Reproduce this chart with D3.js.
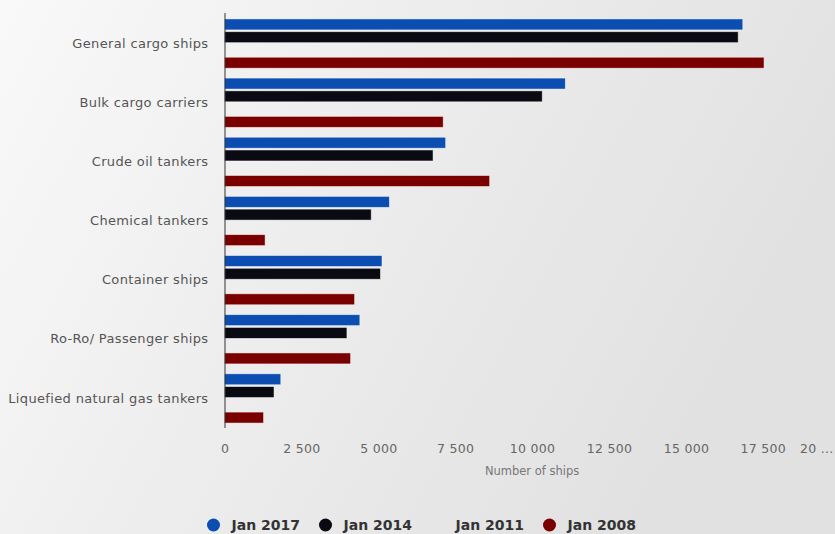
<!DOCTYPE html>
<html lang="en">
<head>
    <meta charset="UTF-8">
    <title>Number of ships by type</title>
    <script src="https://d3js.org/d3.v7.min.js"></script>
    <style>
        body {
            margin: 0;
            padding: 0;
            background-color: #ececec;
        }

        #chart svg {
            display: block;
        }
    </style>
</head>
<body>

    <div id="chart"></div>

    <script>
        // Ship types (top to bottom)
        var categories = [
            'General cargo ships',
            'Bulk cargo carriers',
            'Crude oil tankers',
            'Chemical tankers',
            'Container ships',
            'Ro-Ro/ Passenger ships',
            'Liquefied natural gas tankers'
        ];

        // Number of ships per series
        var seriesNames = ['Jan 2017', 'Jan 2014', 'Jan 2011', 'Jan 2008'];
        var jan2017 = [16850, 11080, 7190, 5360, 5120, 4400, 1830];
        var jan2014 = [16700, 10330, 6780, 4770, 5070, 3980, 1610];
        var jan2011 = [null, null, null, null, null, null, null];
        var jan2008 = [17540, 7110, 8620, 1320, 4230, 4100, 1270];

        var tickValues = [0, 2500, 5000, 7500, 10000, 12500, 15000, 17500, 20000];

        var seriesValues = [jan2017, jan2014, jan2011, jan2008];
        var colors = ['#0b4db1', '#0a0a12', '#ffffff', '#7a0000'];

        var width = 835;
        var height = 534;
        var margin = { top: 14, right: 0, bottom: 106, left: 224.5 };

        var svg = d3.select('#chart')
            .append('svg')
            .attr('width', width)
            .attr('height', height);

        // soft grey background
        var defs = svg.append('defs');
        var grad = defs.append('linearGradient')
            .attr('id', 'bg')
            .attr('x1', 0).attr('y1', 0)
            .attr('x2', 1).attr('y2', 0.35);
        grad.append('stop').attr('offset', '0%').attr('stop-color', '#f9f9f9');
        grad.append('stop').attr('offset', '55%').attr('stop-color', '#ebebeb');
        grad.append('stop').attr('offset', '100%').attr('stop-color', '#e1e1e1');

        svg.append('rect')
            .attr('width', width)
            .attr('height', height)
            .attr('fill', 'url(#bg)');

        var x = d3.scaleLinear()
            .domain([0, 20000])
            .range([margin.left, margin.left + 8 * 76.9]);

        var y = d3.scaleBand()
            .domain(categories)
            .range([margin.top, height - margin.bottom])
            .paddingInner(0.167)
            .paddingOuter(0.0835);

        var ySub = d3.scaleBand()
            .domain(seriesNames)
            .range([0, y.bandwidth()])
            .paddingInner(0.14);

        // bars
        var groups = svg.selectAll('.group')
            .data(categories)
            .enter()
            .append('g')
            .attr('class', 'group')
            .attr('transform', function (d) { return 'translate(0,' + y(d) + ')'; });

        groups.selectAll('rect')
            .data(function (d, i) {
                return seriesNames.map(function (s, j) {
                    return { series: s, value: seriesValues[j][i], color: colors[j] };
                }).filter(function (e) { return e.value !== null; });
            })
            .enter()
            .append('rect')
            .attr('x', x(0))
            .attr('y', function (d) { return ySub(d.series); })
            .attr('width', function (d) { return x(d.value) - x(0); })
            .attr('height', ySub.bandwidth())
            .attr('fill', function (d) { return d.color; })
            .attr('stroke', 'rgba(255,255,255,0.6)')
            .attr('stroke-width', 0.8);

        // category axis
        var yAxis = svg.append('g')
            .attr('transform', 'translate(' + margin.left + ',0)')
            .call(d3.axisLeft(y).tickSize(0).tickPadding(16));

        yAxis.select('.domain')
            .attr('stroke', '#333')
            .attr('d', 'M0.5,' + (margin.top - 1) + 'V' + (height - margin.bottom));

        yAxis.selectAll('text')
            .attr('fill', '#555')
            .style('font-family', 'DejaVu Sans, sans-serif')
            .style('font-size', '13px')
            .style('letter-spacing', '0.35px');

        // value axis
        var xAxis = svg.append('g')
            .attr('transform', 'translate(0,' + (height - margin.bottom) + ')')
            .call(d3.axisBottom(x)
                .tickValues(tickValues)
                .tickSize(0)
                .tickPadding(16)
                .tickFormat(function (d) {
                    if (d === 20000) return '20 ...';
                    return d3.format(',')(d).replace(/,/g, ' ');
                }));

        xAxis.select('.domain').remove();

        xAxis.selectAll('text')
            .attr('fill', '#666')
            .style('font-family', 'DejaVu Sans, sans-serif')
            .style('font-size', '12.5px')
            .style('letter-spacing', '0.3px');

        // keep the last label inside the picture
        xAxis.selectAll('.tick')
            .filter(function (d) { return d === 20000; })
            .select('text')
            .attr('text-anchor', 'end')
            .attr('dx', (width - 2 - x(20000)) + 'px');

        svg.append('text')
            .attr('x', (x(0) + x(20000)) / 2)
            .attr('y', 475)
            .attr('text-anchor', 'middle')
            .attr('fill', '#777')
            .style('font-family', 'DejaVu Sans, sans-serif')
            .style('font-size', '11.5px')
            .text('Number of ships');

        // legend
        var legend = svg.selectAll('.legend')
            .data(seriesNames)
            .enter()
            .append('g')
            .attr('class', 'legend')
            .attr('transform', function (d, i) { return 'translate(' + (213.5 + i * 112) + ',525)'; });

        // series without any bars get no marker, as in the picture
        legend.filter(function (d, i) {
                return seriesValues[i].some(function (v) { return v !== null; });
            })
            .append('circle')
            .attr('r', 6.5)
            .attr('fill', function (d) { return colors[seriesNames.indexOf(d)]; });

        legend.append('text')
            .attr('x', 18)
            .attr('y', 5)
            .attr('fill', '#333')
            .style('font-family', 'DejaVu Sans, sans-serif')
            .style('font-size', '14px')
            .style('font-weight', 'bold')
            .text(function (d) { return d; });
    </script>

</body>
</html>
